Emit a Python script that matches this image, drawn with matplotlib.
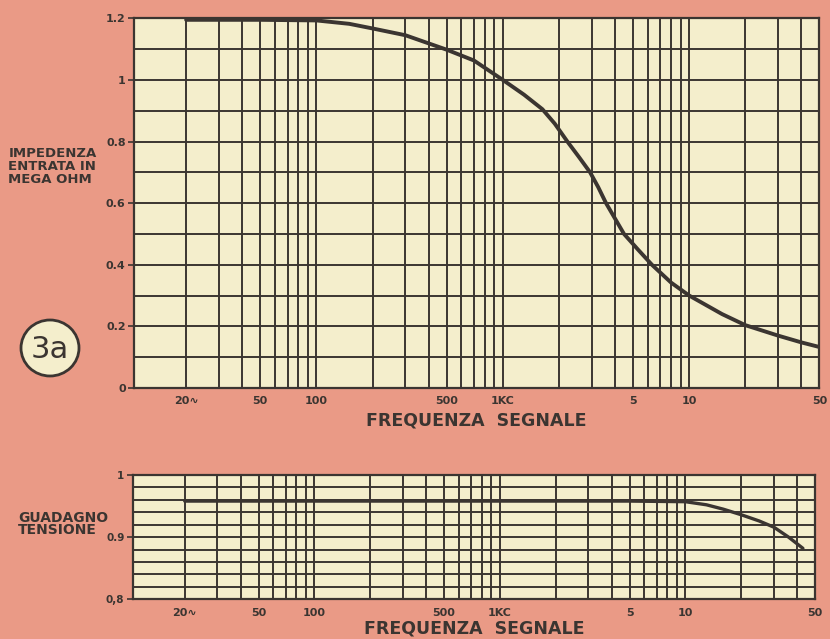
import numpy as np
import matplotlib
matplotlib.use("Agg")
import matplotlib.pyplot as plt
from matplotlib.patches import Ellipse

# impedance curve (MOhm)
imp_freq = [20, 50, 100, 150, 200, 300, 500, 700, 1000, 1300, 1630, 1900, 2220,
            2560, 2940, 3250, 3580, 4000, 4470, 5300, 6310, 8000, 10000, 15000,
            20000, 30000, 40000, 50000]
imp_val = [1.195, 1.195, 1.193, 1.182, 1.167, 1.145, 1.098, 1.063, 1.0, 0.952,
           0.905, 0.858, 0.8, 0.75, 0.7, 0.652, 0.6, 0.55, 0.5, 0.45, 0.4, 0.342,
           0.3, 0.24, 0.204, 0.17, 0.148, 0.133]

# voltage gain curve
gain_freq = [20, 100, 1000, 5000, 10000, 13000, 16000, 20000, 25000, 30000, 36000, 43000]
gain_val = [0.958, 0.958, 0.958, 0.958, 0.957, 0.952, 0.945, 0.936, 0.926, 0.916, 0.9, 0.882]

xtick_pos = [20, 50, 100, 500, 1000, 5000, 10000, 50000]
xtick_lab = ['20\u223f', '50', '100', '500', '1KC', '5', '10', '50']
grid_x = ([f for f in range(20, 100, 10)] + [f for f in range(100, 1000, 100)]
          + [f for f in range(1000, 10000, 1000)] + [f for f in range(10000, 50000, 10000)])

top_yticks = [0, 0.2, 0.4, 0.6, 0.8, 1.0, 1.2]
top_ylab = ['0', '0.2', '0.4', '0.6', '0.8', '1', '1.2']
bot_yticks = [0.8, 0.9, 1.0]
bot_ylab = ['0,8', '0.9', '1']

bg = '#EA9A86'
paper = '#F4EECC'
ink = '#3B3531'

fig = plt.figure(figsize=(8.3, 6.39), dpi=100)
fig.patch.set_facecolor(bg)

ax1 = fig.add_axes([0.1614, 0.3928, 0.8259, 0.5786])
ax2 = fig.add_axes([0.1600, 0.0621, 0.8220, 0.1946])


def style(ax, ymin, ymax, ystep, yt, yl, ysize):
    ax.set_facecolor(paper)
    ax.set_xscale('log')
    ax.set_xlim(10.5, 50000)
    ax.set_ylim(ymin, ymax)
    ax.set_xticks(grid_x, minor=True)
    ax.set_xticks(xtick_pos)
    ax.set_xticklabels(xtick_lab, fontsize=8, fontweight='bold', color=ink)
    ax.set_yticks(np.arange(ymin, ymax + ystep / 2, ystep), minor=True)
    ax.set_yticks(yt)
    ax.set_yticklabels(yl, fontsize=ysize, fontweight='bold', color=ink)
    ax.tick_params(axis='x', which='both', length=0, pad=6)
    ax.tick_params(axis='y', which='major', length=4, width=1.2, color=ink, pad=2)
    ax.tick_params(axis='y', which='minor', length=0)
    ax.grid(which='both', color=ink, linewidth=1.4)
    ax.set_axisbelow(True)
    for s in ax.spines.values():
        s.set_color(ink)
        s.set_linewidth(1.6)


style(ax1, 0, 1.2, 0.1, top_yticks, top_ylab, 8)
style(ax2, 0.8, 1.0, 0.02, bot_yticks, bot_ylab, 7.5)

ax1.plot(imp_freq, imp_val, color=ink, linewidth=2.8, solid_capstyle='round',
         solid_joinstyle='round', zorder=5)
ax2.plot(gain_freq, gain_val, color=ink, linewidth=2.4, solid_capstyle='round',
         solid_joinstyle='round', zorder=5)

ax1.set_xlabel('FREQUENZA  SEGNALE', fontsize=12.5, fontweight='bold', color=ink, labelpad=4)
ax2.set_xlabel('FREQUENZA  SEGNALE', fontsize=12.5, fontweight='bold', color=ink, labelpad=1)

fig.text(0.010, 0.739, 'IMPEDENZA\nENTRATA IN\nMEGA OHM', fontsize=9.5, fontweight='bold',
         color=ink, va='center', ha='left', linespacing=1.0)
fig.text(0.022, 0.180, 'GUADAGNO\nTENSIONE', fontsize=10, fontweight='bold',
         color=ink, va='center', ha='left', linespacing=0.9)

circ = Ellipse((50 / 830, 1 - 348 / 639), 58 / 830, 56 / 639, transform=fig.transFigure,
               facecolor=paper, edgecolor=ink, linewidth=2)
fig.patches.append(circ)
fig.text(50 / 830, 1 - 349 / 639, '3a', fontsize=22, color=ink, ha='center', va='center')

fig.savefig('out.png', dpi=100, facecolor=bg)
